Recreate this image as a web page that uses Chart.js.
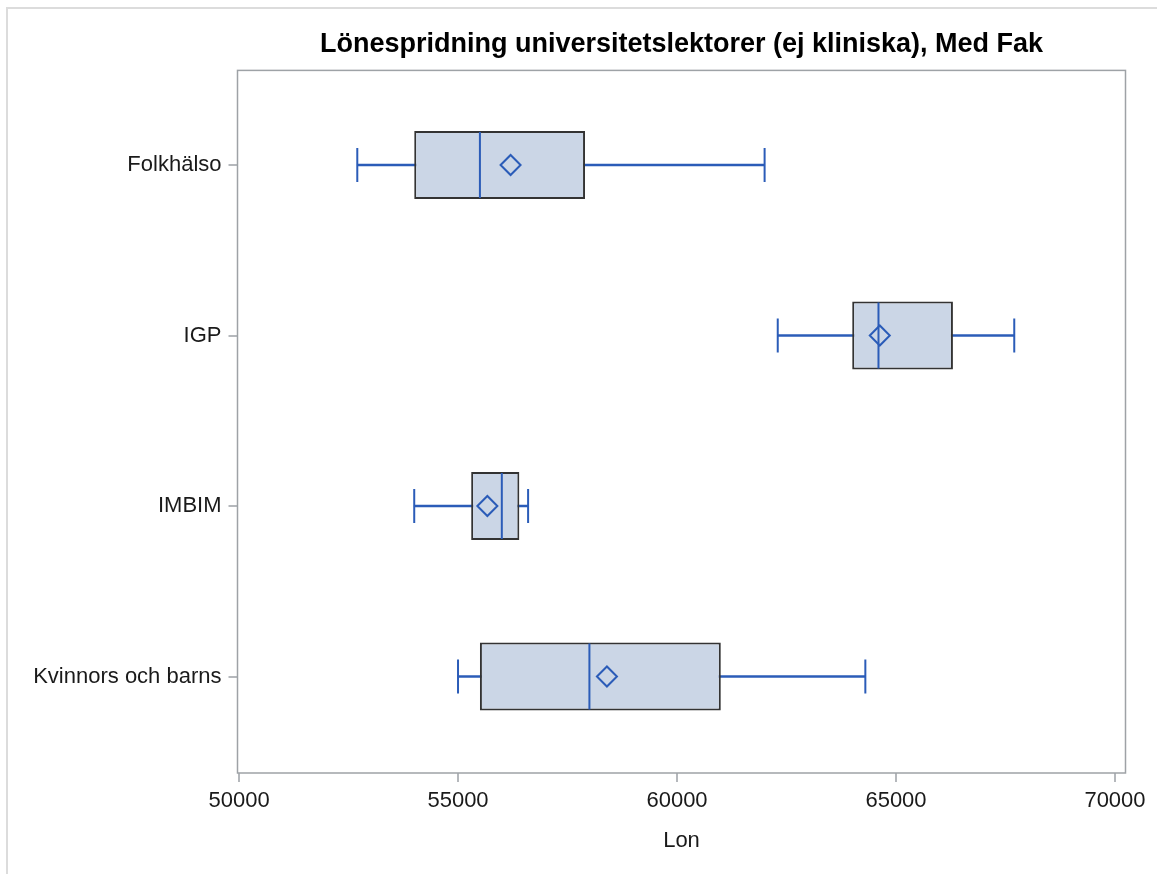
<!DOCTYPE html>
<html lang="sv">
<head>
    <meta charset="UTF-8">
    <title>Lönespridning universitetslektorer</title>
    <script src="https://cdn.jsdelivr.net/npm/chart.js"></script>
    <style>
        html, body { margin: 0; padding: 0; background: #fff; overflow: hidden; }
        /* tunn ram runt hela figuren */
        .ram { position: absolute; left: 6px; top: 7px; width: 2000px; height: 2000px;
               border-left: 2px solid #dcdcdc; border-top: 2px solid #dcdcdc; }
        .wrap { position: absolute; left: 0; top: 0; width: 1157px; height: 874px; }
    </style>
</head>
<body>
    <div class="ram"></div>
    <div class="wrap"><canvas id="boxplot"></canvas></div>

    <script>
        // Institutioner (kategorier på y-axeln)
        const categories = ['Folkhälso', 'IGP', 'IMBIM', 'Kvinnors och barns'];
        // Lådagrams-statistik per institution
        const minVals    = [52700, 62300, 54000, 55000];
        const q1Vals     = [54000, 64000, 55300, 55500];
        const medianVals = [55500, 64600, 56000, 58000];
        const meanVals   = [56200, 64630, 55670, 58400];
        const q3Vals     = [57900, 66300, 56400, 61000];
        const maxVals    = [62000, 67700, 56600, 64300];
        // Skalstreck på x-axeln
        const xTicks = [50000, 55000, 60000, 65000, 70000];

        const blue = '#2b5cb8';
        const font = 'Liberation Sans, Arial, sans-serif';

        // ram runt ritytan
        const frame = {
            id: 'frame',
            afterDraw(chart) {
                const { ctx, chartArea: a } = chart;
                ctx.save();
                ctx.strokeStyle = '#9ea2a6';
                ctx.lineWidth = 1.5;
                ctx.strokeRect(a.left, a.top, a.right - a.left, a.bottom - a.top);
                ctx.restore();
            }
        };

        const pts = vals => vals.map((v, i) => ({ x: v, y: i }));

        new Chart(document.getElementById('boxplot'), {
            type: 'bar',
            data: {
                datasets: [
                    // medelvärde (romb)
                    {
                        type: 'scatter', order: 0,
                        data: pts(meanVals),
                        pointStyle: 'rectRot', radius: 10,
                        backgroundColor: 'rgba(0,0,0,0)', borderColor: blue, borderWidth: 2
                    },
                    // median
                    {
                        type: 'scatter', order: 1,
                        data: pts(medianVals),
                        pointStyle: 'line', rotation: 90, radius: 33,
                        borderColor: blue, borderWidth: 2
                    },
                    // morrhårens ändar
                    {
                        type: 'scatter', order: 1,
                        data: pts(minVals).concat(pts(maxVals)),
                        pointStyle: 'line', rotation: 90, radius: 17,
                        borderColor: blue, borderWidth: 2
                    },
                    // lådan Q1–Q3
                    {
                        type: 'bar', order: 2, indexAxis: 'y', stack: 'box',
                        data: categories.map((c, i) => ({ x: [q1Vals[i], q3Vals[i]], y: i })),
                        backgroundColor: '#cbd6e6', borderColor: '#333333',
                        borderWidth: 2, borderSkipped: false,
                        barPercentage: 0.4, categoryPercentage: 1
                    },
                    // morrhår min–max
                    {
                        type: 'bar', order: 3, indexAxis: 'y', stack: 'box',
                        data: categories.map((c, i) => ({ x: [minVals[i], maxVals[i]], y: i })),
                        backgroundColor: blue, borderWidth: 0,
                        barThickness: 2
                    }
                ]
            },
            options: {
                responsive: true,
                maintainAspectRatio: false,
                animation: false,
                events: [],
                layout: { autoPadding: false, padding: { left: 0, right: 31.5, top: 0, bottom: 0 } },
                plugins: {
                    legend: { display: false },
                    tooltip: { enabled: false },
                    title: {
                        display: true,
                        fullSize: false,
                        text: 'Lönespridning universitetslektorer (ej kliniska), Med Fak',
                        color: '#000',
                        font: { family: font, size: 27, weight: 'bold' },
                        padding: { top: 28, bottom: 10 }
                    }
                },
                scales: {
                    x: {
                        type: 'linear',
                        stacked: false,
                        offset: false,
                        min: 49965,
                        max: 70240,
                        afterBuildTicks: s => { s.ticks = xTicks.map(v => ({ value: v })); },
                        afterFit: s => { s.height = 101; s.paddingRight = 0; s.paddingLeft = 0; },
                        grid: { offset: false, drawOnChartArea: false, tickLength: 9, color: '#b5b8bc', lineWidth: 2 },
                        border: { display: false },
                        ticks: {
                            color: '#1a1a1a', padding: 6, maxRotation: 0,
                            font: { family: font, size: 22 },
                            callback: v => String(v)
                        },
                        title: {
                            display: true, text: 'Lon', color: '#1a1a1a',
                            font: { family: font, size: 22 },
                            padding: { top: 0, bottom: 20 }
                        }
                    },
                    y: {
                        type: 'linear',
                        reverse: true,
                        offset: false,
                        min: -0.555,
                        max: 3.566,
                        afterBuildTicks: s => { s.ticks = categories.map((c, i) => ({ value: i })); },
                        afterFit: s => { s.width = 237.5; },
                        grid: { offset: false, drawOnChartArea: false, tickLength: 9, color: '#b5b8bc', lineWidth: 2 },
                        border: { display: false },
                        ticks: {
                            color: '#1a1a1a', padding: 7,
                            font: { family: font, size: 22 },
                            callback: v => categories[v]
                        }
                    }
                }
            },
            plugins: [frame]
        });
    </script>
</body>
</html>
